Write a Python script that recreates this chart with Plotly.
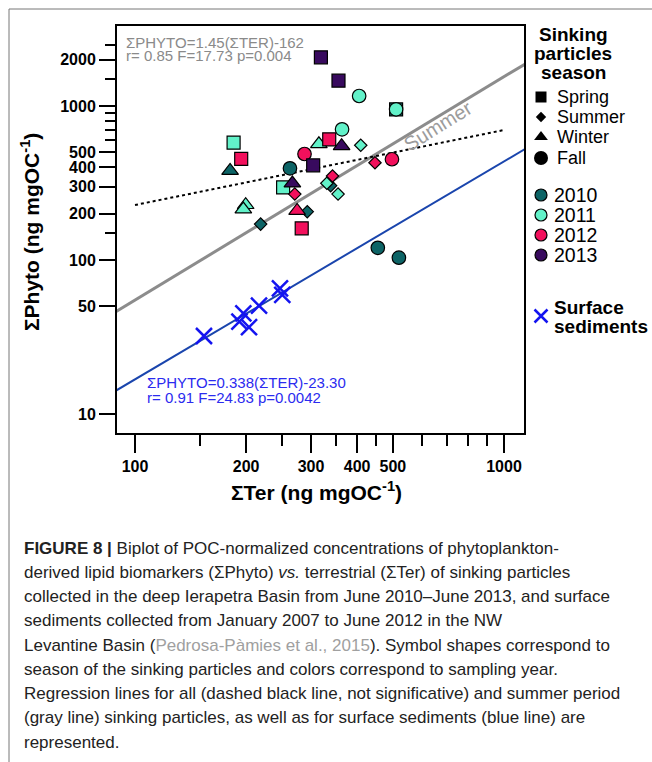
import numpy as np
import plotly.graph_objects as go

W, H = 652, 762

# ---- sinking particles: (ΣTer, ΣPhyto, season) grouped by sampling year ----
ter_2010 = [181, 219, 263, 293, 339, 510, 455, 519]
phy_2010 = [380, 171, 394, 206, 304, 951, 120, 103.5]
sea_2010 = ["Winter", "Summer", "Fall", "Summer", "Summer", "Spring", "Fall", "Fall"]

ter_2011 = [185, 199.5, 196.6, 252, 315, 364, 405, 510, 409, 331, 355]
phy_2011 = [578, 228, 213.5, 296, 566, 706, 1161, 951, 556, 315, 268]
sea_2011 = ["Spring", "Winter", "Winter", "Spring", "Winter", "Fall", "Fall", "Fall",
            "Summer", "Summer", "Summer"]

ter_2012 = [194, 271, 275, 283, 288, 336, 343, 447, 497]
phy_2012 = [453, 268, 209, 160.6, 488, 608, 351, 428, 451]
sea_2012 = ["Spring", "Summer", "Winter", "Spring", "Fall", "Spring", "Summer", "Summer", "Fall"]

ter_2013 = [267, 304, 363, 319, 356]
phy_2013 = [315, 412, 550, 2071, 1460]
sea_2013 = ["Winter", "Spring", "Winter", "Spring", "Spring"]

# ---- surface sediments ----
ter_sed = [153.8, 196.6, 191.8, 203.7, 216.8, 247.1, 250.7]
phy_sed = [32.1, 45.1, 39.8, 36.6, 50.5, 65.5, 59.3]

# ---- regression lines, log10(Phyto) = slope*log10(Ter) + intercept ----
summer_fit = (1.45, -1.16)
sediment_fit = (1.415, -1.605)
all_fit = (0.487, 1.383)
all_fit_span = [100, 1000]

years = ["2010", "2011", "2012", "2013"]
year_colors = {"2010": "#0d6466", "2011": "#62f2c9", "2012": "#f2105c", "2013": "#380a5e"}
season_symbol = {"Spring": "square", "Summer": "diamond", "Winter": "triangle-up", "Fall": "circle"}
season_size = {"Spring": 13, "Summer": 9.5, "Winter": 14.5, "Fall": 13.5}

x_range = [1.9512, 3.0542]
y_range = [0.8766, 3.5195]

x_major = [100, 200, 300, 400, 500, 1000]
x_minor = [150, 250, 350, 450, 600, 700, 800, 900]
y_major = [10, 50, 100, 200, 300, 400, 500, 1000, 2000]
y_minor = [150, 600, 700, 800, 900, 1500, 2500]

FONT = "Liberation Sans, Arial, sans-serif"

fig = go.Figure()


def fit_line(fit, xs):
    xs = np.asarray(xs, dtype=float)
    return xs, 10 ** (fit[0] * np.log10(xs) + fit[1])


full_x = [10 ** (x_range[0] - 0.02), 10 ** (x_range[1] + 0.02)]

gx, gy = fit_line(summer_fit, full_x)
fig.add_trace(go.Scatter(x=gx, y=gy, mode="lines", line=dict(color="#8c8c8c", width=3),
                         hoverinfo="skip"))
bx, by = fit_line(sediment_fit, full_x)
fig.add_trace(go.Scatter(x=bx, y=by, mode="lines", line=dict(color="#1a45ad", width=2),
                         hoverinfo="skip"))
dx, dy = fit_line(all_fit, all_fit_span)
fig.add_trace(go.Scatter(x=dx, y=dy, mode="lines",
                         line=dict(color="black", width=2, dash="dot"), hoverinfo="skip"))

fig.add_trace(go.Scatter(x=ter_sed, y=phy_sed, mode="markers",
                         marker=dict(symbol="x-thin", size=16, opacity=1,
                                     line=dict(color="#1414f0", width=2.5)),
                         name="Surface sediments"))

series = {
    "2010": (ter_2010, phy_2010, sea_2010),
    "2011": (ter_2011, phy_2011, sea_2011),
    "2012": (ter_2012, phy_2012, sea_2012),
    "2013": (ter_2013, phy_2013, sea_2013),
}
for yr in years:
    tx, py, ss = series[yr]
    fig.add_trace(go.Scatter(
        x=tx, y=py, mode="markers", name=yr,
        marker=dict(symbol=[season_symbol[s] for s in ss],
                    size=[season_size[s] for s in ss],
                    color=year_colors[yr], opacity=1,
                    line=dict(color="black", width=1.2)),
    ))

# ---- legend glyphs on a pixel-space overlay ----
leg_season = ["Spring", "Summer", "Winter", "Fall"]
leg_season_y = [97, 117, 137, 158]
leg_season_size = [11, 8, 12, 14]
for s, yy, sz in zip(leg_season, leg_season_y, leg_season_size):
    fig.add_trace(go.Scatter(x=[541], y=[yy], xaxis="x2", yaxis="y2", mode="markers",
                             marker=dict(symbol=season_symbol[s], size=sz, color="black", opacity=1),
                             hoverinfo="skip"))
leg_year_y = [195, 215, 235, 255]
for yr, yy in zip(years, leg_year_y):
    fig.add_trace(go.Scatter(x=[541], y=[yy], xaxis="x2", yaxis="y2", mode="markers",
                             marker=dict(symbol="circle", size=12, color=year_colors[yr], opacity=1,
                                         line=dict(color="black", width=1.2)),
                             hoverinfo="skip"))
fig.add_trace(go.Scatter(x=[541], y=[316], xaxis="x2", yaxis="y2", mode="markers",
                         marker=dict(symbol="x-thin", size=13, opacity=1,
                                     line=dict(color="#1414f0", width=2.5)),
                         hoverinfo="skip"))

annotations = []


def txt(x, y, text, size=16, color="black", xanchor="left", angle=0, family=FONT, yanchor="middle"):
    annotations.append(dict(x=x / W, y=1 - y / H, xref="paper", yref="paper", text=text,
                            showarrow=False, xanchor=xanchor, yanchor=yanchor, textangle=angle,
                            font=dict(size=size, color=color, family=family)))


# equations
txt(124, 42, "ΣPHYTO=1.45(ΣTER)-162", 15, "#8a8a8a")
txt(124, 56, "r= 0.85 F=17.73 p=0.004", 15, "#8a8a8a")
txt(145, 383, "ΣPHYTO=0.338(ΣTER)-23.30", 15, "#2b2bef")
txt(145, 397, "r= 0.91 F=24.83 p=0.0042", 15, "#2b2bef")
txt(438, 126, "Summer", 20, "#9c9c9c", xanchor="center", angle=-32)

# legend text
txt(573, 35, "<b>Sinking</b>", 19, xanchor="center")
txt(573, 54, "<b>particles</b>", 19, xanchor="center")
txt(573, 73, "<b>season</b>", 19, xanchor="center")
for s, yy in zip(leg_season, leg_season_y):
    txt(555, yy, s, 18)
for yr, yy in zip(years, leg_year_y):
    txt(552, yy, yr, 19.5)
txt(552, 307, "<b>Surface</b>", 19)
txt(552, 326, "<b>sediments</b>", 19)

# axis titles
txt(30, 232, "<b>ΣPhyto (ng mgOC<sup>-1</sup>)</b>", 21, xanchor="center", angle=-90)
txt(316, 491, "<b>ΣTer (ng mgOC<sup>-1</sup>)</b>", 21, xanchor="center")

# caption
caption = [
    "<b>FIGURE 8 |</b> Biplot of POC-normalized concentrations of phytoplankton-",
    "derived lipid biomarkers (ΣPhyto) <i>vs.</i> terrestrial (ΣTer) of sinking particles",
    "collected in the deep Ierapetra Basin from June 2010–June 2013, and surface",
    "sediments collected from January 2007 to June 2012 in the NW",
    "Levantine Basin (<span style='color:#a0a0a0'>Pedrosa-Pàmies et al., 2015</span>). Symbol shapes correspond to",
    "season of the sinking particles and colors correspond to sampling year.",
    "Regression lines for all (dashed black line, not significative) and summer period",
    "(gray line) sinking particles, as well as for surface sediments (blue line) are",
    "represented.",
]
for i, line in enumerate(caption):
    txt(22, 548 + i * 24.25, line, 17, "#222222")

x_dom = [117 / W, 524 / W]
y_dom = [1 - 433 / H, 1 - 26 / H]

axis_common = dict(type="log", showgrid=False, zeroline=False, showline=True, linecolor="black",
                   linewidth=2, mirror=True, ticks="outside", tickwidth=2, tickcolor="black",
                   tickmode="array", tickfont=dict(size=16, family=FONT, color="black"))

fig.update_layout(
    width=W, height=H, margin=dict(l=0, r=0, t=0, b=0),
    paper_bgcolor="white", plot_bgcolor="rgba(0,0,0,0)", showlegend=False,
    xaxis=dict(axis_common, domain=x_dom, range=x_range, tickvals=x_major,
               ticktext=[f"<b>{v}</b>" for v in x_major], ticklen=18,
               minor=dict(tickmode="array", tickvals=x_minor, ticks="outside", ticklen=11,
                          tickwidth=2, tickcolor="black", showgrid=False)),
    yaxis=dict(axis_common, domain=y_dom, range=y_range, tickvals=y_major,
               ticktext=[f"<b>{v}</b>" for v in y_major], ticklen=16,
               minor=dict(tickmode="array", tickvals=y_minor, ticks="outside", ticklen=10,
                          tickwidth=2, tickcolor="black", showgrid=False)),
    xaxis2=dict(domain=[0, 1], range=[0, W], visible=False, anchor="y2", fixedrange=True),
    yaxis2=dict(domain=[0, 1], range=[H, 0], visible=False, anchor="x2", fixedrange=True),
    annotations=annotations,
    shapes=[
        dict(type="line", xref="paper", yref="paper", x0=9 / W, x1=9 / W, y0=0, y1=1 - 9 / H,
             line=dict(color="#777777", width=1)),
        dict(type="line", xref="paper", yref="paper", x0=9 / W, x1=1, y0=1 - 9 / H, y1=1 - 9 / H,
             line=dict(color="#777777", width=1)),
    ],
)

fig.write_html("out.html")
